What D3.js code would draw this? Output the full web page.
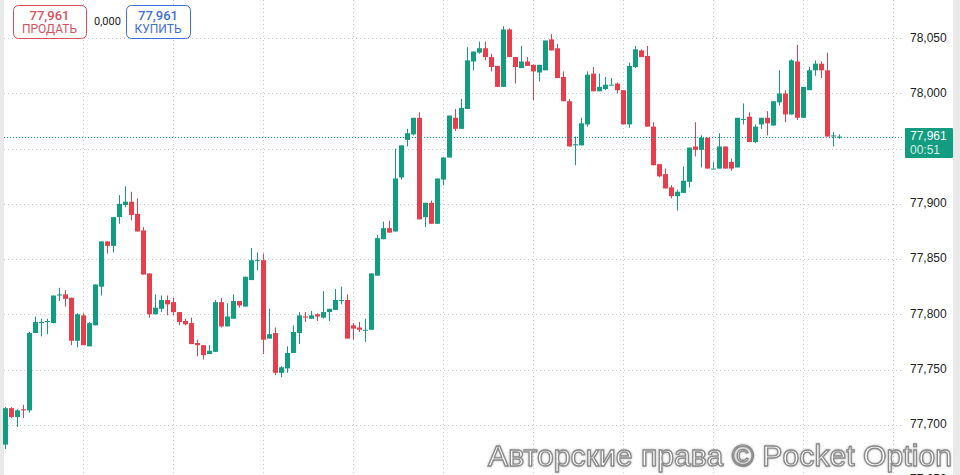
<!DOCTYPE html>
<html>
<head>
<meta charset="utf-8">
<script src="https://cdn.jsdelivr.net/npm/d3@7"></script>
<style>
  html, body { margin: 0; padding: 0; background: #fff; }
  svg { display: block; font-family: "Liberation Sans", Arial, sans-serif; }
</style>
</head>
<body>
<div id="chart"></div>
<script>
const width = 960, height = 475;

// candle data (price per candle)
let opens = [
  77.682, 77.715, 77.707, 77.714, 77.713, 77.783, 77.792, 77.793, 77.792, 77.817,
  77.818, 77.815, 77.776, 77.799, 77.771, 77.790, 77.825, 77.866, 77.862, 77.888,
  77.899, 77.902, 77.891, 77.876, 77.837, 77.800, 77.805, 77.813, 77.811, 77.802,
  77.794, 77.792, 77.774, 77.772, 77.764, 77.766, 77.811, 77.789, 77.796, 77.812,
  77.807, 77.831, 77.849, 77.849, 77.778, 77.783, 77.747, 77.751, 77.765, 77.783,
  77.798, 77.796, 77.800, 77.797, 77.802, 77.804, 77.813, 77.813, 77.790, 77.788,
  77.786, 77.786, 77.835, 77.868, 77.878, 77.875, 77.924, 77.958, 77.963, 77.978,
  77.888, 77.901, 77.882, 77.922, 77.942, 77.978, 77.968, 77.986, 78.029, 78.037,
  78.041, 78.033, 78.025, 78.006, 78.058, 78.033, 78.023, 78.029, 78.026, 78.019,
  78.021, 78.049, 78.041, 78.015, 77.993, 77.953, 77.953, 77.972, 78.018, 78.002,
  78.004, 78.008, 78.009, 78.003, 77.972, 78.024, 78.039, 78.034, 77.970, 77.936,
  77.927, 77.915, 77.907, 77.910, 77.920, 77.952, 77.949, 77.960, 77.932, 77.932,
  77.952, 77.938, 77.933, 77.977, 77.979, 77.956, 77.972, 77.978, 77.971, 77.992,
  78.000, 77.981, 78.029, 77.978, 78.003, 78.021, 78.027, 78.021, 77.962, 77.961
];
let highs = [
  77.716, 77.716, 77.714, 77.718, 77.784, 77.798, 77.796, 77.796, 77.817, 77.824,
  77.822, 77.815, 77.801, 77.801, 77.793, 77.827, 77.866, 77.866, 77.888, 77.908,
  77.916, 77.911, 77.905, 77.879, 77.837, 77.818, 77.817, 77.817, 77.815, 77.802,
  77.796, 77.797, 77.777, 77.772, 77.772, 77.813, 77.815, 77.810, 77.818, 77.812,
  77.834, 77.860, 77.856, 77.855, 77.805, 77.788, 77.753, 77.771, 77.790, 77.802,
  77.802, 77.803, 77.801, 77.821, 77.805, 77.823, 77.825, 77.818, 77.792, 77.793,
  77.796, 77.837, 77.872, 77.884, 77.885, 77.950, 77.953, 77.968, 77.978, 77.983,
  77.901, 77.903, 77.923, 77.942, 77.980, 77.986, 77.995, 78.042, 78.038, 78.047,
  78.047, 78.036, 78.025, 78.061, 78.059, 78.033, 78.043, 78.033, 78.026, 78.026,
  78.048, 78.054, 78.045, 78.020, 77.995, 77.961, 77.978, 78.020, 78.024, 78.018,
  78.015, 78.014, 78.010, 78.003, 78.028, 78.043, 78.040, 78.043, 77.974, 77.936,
  77.932, 77.917, 77.913, 77.934, 77.951, 77.974, 77.962, 77.960, 77.938, 77.964,
  77.952, 77.941, 77.978, 77.991, 77.983, 77.972, 77.978, 77.984, 77.993, 78.021,
  78.003, 78.031, 78.044, 78.006, 78.024, 78.030, 78.029, 78.037, 77.965, 77.963
];
let lows = [
  77.678, 77.706, 77.698, 77.706, 77.711, 77.783, 77.780, 77.782, 77.792, 77.812,
  77.807, 77.772, 77.770, 77.772, 77.771, 77.790, 77.817, 77.855, 77.856, 77.882,
  77.897, 77.885, 77.875, 77.836, 77.797, 77.800, 77.802, 77.799, 77.799, 77.790,
  77.790, 77.773, 77.762, 77.759, 77.764, 77.766, 77.788, 77.789, 77.796, 77.806,
  77.807, 77.831, 77.840, 77.764, 77.778, 77.745, 77.743, 77.747, 77.765, 77.773,
  77.793, 77.796, 77.794, 77.796, 77.794, 77.804, 77.809, 77.778, 77.777, 77.784,
  77.775, 77.786, 77.835, 77.868, 77.874, 77.875, 77.922, 77.952, 77.962, 77.886,
  77.879, 77.882, 77.882, 77.917, 77.942, 77.966, 77.968, 77.986, 78.021, 78.036,
  78.030, 78.020, 78.006, 78.006, 78.033, 78.009, 78.023, 78.025, 77.994, 78.011,
  78.021, 78.039, 78.014, 77.993, 77.952, 77.935, 77.953, 77.970, 78.002, 78.002,
  78.003, 78.008, 78.000, 77.972, 77.969, 78.023, 78.033, 77.970, 77.935, 77.924,
  77.914, 77.905, 77.894, 77.910, 77.915, 77.943, 77.933, 77.932, 77.932, 77.932,
  77.932, 77.930, 77.933, 77.972, 77.956, 77.955, 77.968, 77.962, 77.971, 77.989,
  77.974, 77.981, 77.976, 77.978, 78.003, 78.016, 78.014, 77.961, 77.952, 77.959
];
let closes = [
  77.715, 77.707, 77.713, 77.713, 77.783, 77.793, 77.793, 77.794, 77.817, 77.818,
  77.814, 77.776, 77.800, 77.772, 77.792, 77.827, 77.866, 77.862, 77.888, 77.900,
  77.902, 77.890, 77.875, 77.836, 77.800, 77.806, 77.813, 77.809, 77.802, 77.793,
  77.791, 77.773, 77.772, 77.763, 77.767, 77.811, 77.789, 77.798, 77.812, 77.808,
  77.834, 77.849, 77.849, 77.777, 77.782, 77.747, 77.752, 77.765, 77.784, 77.799,
  77.797, 77.799, 77.798, 77.802, 77.805, 77.813, 77.813, 77.778, 77.787, 77.786,
  77.786, 77.837, 77.869, 77.878, 77.874, 77.923, 77.953, 77.964, 77.978, 77.886,
  77.901, 77.882, 77.923, 77.942, 77.980, 77.968, 77.987, 78.030, 78.038, 78.041,
  78.033, 78.024, 78.006, 78.058, 78.033, 78.024, 78.029, 78.025, 78.020, 78.026,
  78.048, 78.039, 78.014, 77.993, 77.952, 77.954, 77.973, 78.017, 78.002, 78.006,
  78.008, 78.008, 78.003, 77.972, 78.025, 78.040, 78.033, 77.970, 77.935, 77.925,
  77.914, 77.907, 77.911, 77.921, 77.951, 77.949, 77.960, 77.932, 77.932, 77.952,
  77.932, 77.932, 77.978, 77.977, 77.956, 77.970, 77.978, 77.973, 77.993, 78.000,
  77.981, 78.030, 77.978, 78.006, 78.021, 78.027, 78.021, 77.961, 77.962, 77.961
];

let priceTicks = [77.65, 77.70, 77.75, 77.80, 77.85, 77.90, 77.95, 78.00, 78.05];
let currentPrice = 77.961;
let spread = "0,000";
let timer = "00:51";
let sellLabel = "ПРОДАТЬ", buyLabel = "КУПИТЬ";
let watermark = "Авторские права © Pocket Option";

const GREEN = "#129c80", RED = "#ea3d4c";

let candles = opens.map((o, i) => ({i: i, o: o, h: highs[i], l: lows[i], c: closes[i]}));

let fmt = d3.formatLocale({decimal: ",", thousands: " ", grouping: [3], currency: ["", ""]}).format(".3f");

let x = d3.scaleLinear()
    .domain([0, candles.length - 1])
    .range([5.3, 5.3 + 6 * (candles.length - 1)]);

let y = d3.scaleLinear()
    .domain([77.70, 78.05])
    .range([424.7, 38.3]);

let svg = d3.select("#chart")
    .append("svg")
    .attr("width", width)
    .attr("height", height);

// side strips
svg.append("rect").attr("x", 0).attr("y", 0).attr("width", 4).attr("height", height).attr("fill", "#e9e9e9");
svg.append("rect").attr("x", 953).attr("y", 0).attr("width", 7).attr("height", height).attr("fill", "#e9e9e9");

// grid
let grid = svg.append("g");
grid.selectAll("line.h").data(priceTicks).enter()
    .append("line")
    .attr("x1", 4).attr("x2", 902)
    .attr("y1", d => Math.round(y(d)) + 0.5)
    .attr("y2", d => Math.round(y(d)) + 0.5)
    .attr("stroke", "#c9c9c9")
    .attr("stroke-dasharray", "1,3");

let vIdx = d3.range(13, 13 + 15 * 10, 15);
grid.selectAll("line.v").data(vIdx).enter()
    .append("line")
    .attr("x1", d => Math.round(x(d)) + 0.5)
    .attr("x2", d => Math.round(x(d)) + 0.5)
    .attr("y1", 0).attr("y2", height)
    .attr("stroke", "#c9c9c9")
    .attr("stroke-dasharray", "1,3");

// price axis (the label hidden under the live price box is left out)
let py = Math.round(y(currentPrice)) + 0.5;
let shownTicks = priceTicks.filter(t => Math.abs(y(t) - (py + 5)) > 18);
let axis = svg.append("g")
    .attr("transform", "translate(910, -1)")
    .call(d3.axisRight(y).tickValues(shownTicks).tickSize(0).tickPadding(0).tickFormat(fmt));
axis.select(".domain").remove();
axis.selectAll("text")
    .attr("fill", "#222")
    .style("font-size", "12px")
    .style("font-family", "'Liberation Sans', Arial, sans-serif");

// candles
let cg = svg.append("g");
cg.selectAll("line").data(candles).enter()
    .append("line")
    .attr("x1", d => Math.round(x(d.i)) + 0.5)
    .attr("x2", d => Math.round(x(d.i)) + 0.5)
    .attr("y1", d => y(d.h))
    .attr("y2", d => y(d.l))
    .attr("stroke", d => d.c >= d.o ? GREEN : RED)
    .attr("stroke-width", 1);

cg.selectAll("rect").data(candles).enter()
    .append("rect")
    .attr("x", d => Math.round(x(d.i)) - 2)
    .attr("width", 5)
    .attr("y", d => y(Math.max(d.o, d.c)))
    .attr("height", d => Math.max(1, y(Math.min(d.o, d.c)) - y(Math.max(d.o, d.c))))
    .attr("fill", d => d.c >= d.o ? GREEN : RED);

// current price line + label
svg.append("line")
    .attr("x1", 4).attr("x2", 903)
    .attr("y1", py).attr("y2", py)
    .attr("stroke", GREEN)
    .attr("stroke-dasharray", "1,2");

svg.append("rect")
    .attr("x", 905).attr("y", py - 9.5)
    .attr("width", 48).attr("height", 30)
    .attr("rx", 1)
    .attr("fill", GREEN);
svg.append("text")
    .attr("x", 910).attr("y", py + 2)
    .attr("fill", "#fff")
    .style("font-size", "12px")
    .text(fmt(currentPrice));
svg.append("text")
    .attr("x", 910).attr("y", py + 16.5)
    .attr("fill", "#d4f0e8")
    .style("font-size", "12px")
    .text(timer);

// sell / buy boxes
function priceBox(x0, w, color, label) {
    let g = svg.append("g");
    g.append("rect")
        .attr("x", x0 + 0.5).attr("y", 5.5)
        .attr("width", w).attr("height", 33)
        .attr("rx", 5)
        .attr("fill", "#fff")
        .attr("stroke", color);
    g.append("text")
        .attr("x", x0 + w / 2).attr("y", 19.5)
        .attr("text-anchor", "middle")
        .attr("fill", color)
        .style("font-family", "Roboto, sans-serif")
        .style("font-size", "13px")
        .style("font-weight", 500)
        .text(fmt(currentPrice));
    g.append("text")
        .attr("x", x0 + w / 2).attr("y", 33)
        .attr("text-anchor", "middle")
        .attr("fill", color)
        .style("font-family", "Roboto, sans-serif")
        .style("font-size", "12px")
        .text(label);
}
priceBox(13, 73, "#d9505b", sellLabel);
priceBox(126, 64, "#3f6fd8", buyLabel);
svg.append("text")
    .attr("x", 94).attr("y", 25)
    .attr("fill", "#222")
    .style("font-family", "Roboto, sans-serif")
    .style("font-size", "11px")
    .text(spread);

// watermark
let defs = svg.append("defs");
let f = defs.append("filter").attr("id", "glow").attr("x", "-5%").attr("y", "-20%").attr("width", "110%").attr("height", "140%");
f.append("feGaussianBlur").attr("in", "SourceAlpha").attr("stdDeviation", 1.2).attr("result", "b");
f.append("feFlood").attr("flood-color", "#b0b0b0");
f.append("feComposite").attr("in2", "b").attr("operator", "in").attr("result", "s");
let fm = f.append("feMerge");
fm.append("feMergeNode").attr("in", "s");
fm.append("feMergeNode").attr("in", "SourceGraphic");

svg.append("text")
    .attr("x", 488).attr("y", 466)
    .attr("textLength", 464)
    .attr("lengthAdjust", "spacingAndGlyphs")
    .attr("fill", "#fff")
    .attr("stroke", "#8a8a8a")
    .attr("stroke-width", 1.3)
    .attr("filter", "url(#glow)")
    .style("font-family", "'Liberation Sans', Arial, sans-serif")
    .style("font-size", "30px")
    .text(watermark);
</script>
</body>
</html>
